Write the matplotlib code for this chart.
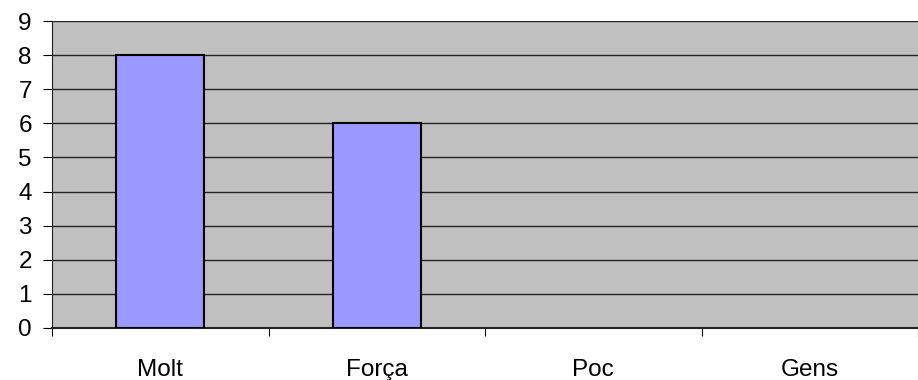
import matplotlib
matplotlib.use('Agg')
import matplotlib.pyplot as plt

categories = ['Molt', 'Força', 'Poc', 'Gens']
values = [8, 6, 0, 0]
y_ticks = [0, 1, 2, 3, 4, 5, 6, 7, 8, 9]

plt.rcParams['font.family'] = ['Liberation Sans', 'DejaVu Sans']

fig = plt.figure(figsize=(9.18, 3.8), dpi=100)
ax = fig.add_axes([52 / 918, 52 / 380, 866 / 918, 307 / 380])
ax.set_facecolor('#C0C0C0')

# skip zero-height bars so no stray edge line is drawn on the axis
x = [i for i, v in enumerate(values) if v > 0]
h = [v for v in values if v > 0]
ax.bar(x, h, width=0.405, color='#9999FF', edgecolor='black', linewidth=1.5, zorder=3)

ax.set_ylim(0, 9)
ax.set_yticks(y_ticks)
ax.yaxis.grid(True, color='#222222', linewidth=1)
ax.set_axisbelow(True)

ax.set_xlim(-0.5, 3.442)
ax.set_xticks([i + 0.5 for i in range(-1, len(categories))])
ax.set_xticklabels([])
ax.set_xticks(range(len(categories)), minor=True)
ax.set_xticklabels(categories, minor=True)
ax.tick_params(axis='x', which='minor', length=0, pad=22, labelsize=17.5)
ax.tick_params(axis='x', which='major', length=6, color='black', direction='out')
ax.tick_params(axis='y', length=6.5, labelsize=17.5, pad=8)

for side in ['top', 'right']:
    ax.spines[side].set_visible(False)
ax.spines['left'].set_color('#222222')
ax.spines['bottom'].set_color('#222222')
ax.spines['bottom'].set_linewidth(1.5)

fig.savefig('out.png', dpi=100)
